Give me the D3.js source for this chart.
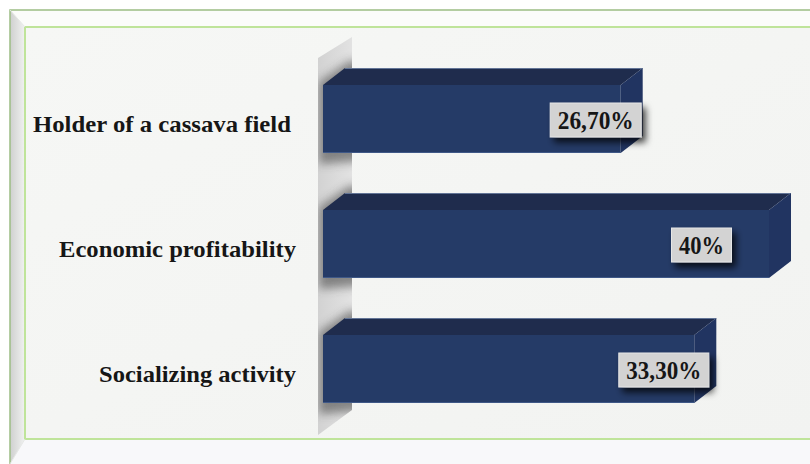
<!DOCTYPE html>
<html>
<head>
<meta charset="utf-8">
<script src="https://cdn.jsdelivr.net/npm/d3@7/dist/d3.min.js"></script>
<style>
  html, body { margin: 0; padding: 0; background: #ffffff; }
  svg { display: block; }
</style>
</head>
<body>
<svg id="chart" width="810" height="464"></svg>
<script>
// Reasons for cassava cultivation (share of respondents)
const categories = ["Holder of a cassava field", "Economic profitability", "Socializing activity"];
const values = [26.7, 40, 33.3];
const valueLabels = ["26,70%", "40%", "33,30%"];

const W = 810, H = 464;
const svg = d3.select("#chart");
const defs = svg.append("defs");

// ---------- frame ----------
const leftBevel = defs.append("linearGradient").attr("id", "leftBevel")
  .attr("x1", 0).attr("x2", 1).attr("y1", 0).attr("y2", 0);
leftBevel.append("stop").attr("offset", 0).attr("stop-color", "#cfd0cf");
leftBevel.append("stop").attr("offset", 1).attr("stop-color", "#f1f2f1");

const plotFill = defs.append("linearGradient").attr("id", "plotFill")
  .attr("x1", 0).attr("x2", 1).attr("y1", 0).attr("y2", 1);
plotFill.append("stop").attr("offset", 0).attr("stop-color", "#f6f7f5");
plotFill.append("stop").attr("offset", 1).attr("stop-color", "#f2f3f1");

const outer = { x0: 10, y0: 10 };
const inner = { x0: 25, y0: 27, y1: 439 };

svg.append("polygon") // top bevel
  .attr("points", [[outer.x0, outer.y0], [W, outer.y0], [W, inner.y0], [inner.x0, inner.y0]].join(" "))
  .attr("fill", "#fbfcfa");
svg.append("polygon") // bottom bevel
  .attr("points", [[inner.x0, inner.y1], [W, inner.y1], [W, H], [outer.x0, H]].join(" "))
  .attr("fill", "#f8f8fa");
svg.append("polygon") // left bevel
  .attr("points", [[outer.x0, outer.y0], [inner.x0, inner.y0], [inner.x0, inner.y1], [outer.x0, H]].join(" "))
  .attr("fill", "url(#leftBevel)");
svg.append("rect") // plot area
  .attr("x", inner.x0).attr("y", inner.y0)
  .attr("width", W - inner.x0).attr("height", inner.y1 - inner.y0)
  .attr("fill", "url(#plotFill)");

// frame lines
svg.append("path").attr("d", `M${W},${outer.y0}H${outer.x0}V${H}`)
  .attr("fill", "none").attr("stroke", "#9cbd84").attr("stroke-width", 1.5);
svg.append("path").attr("d", `M${W},${inner.y0}H${inner.x0}V${inner.y1}H${W}`)
  .attr("fill", "none").attr("stroke", "#bfe49a").attr("stroke-width", 2);
svg.append("path").attr("d", `M${outer.x0},${outer.y0}L${inner.x0},${inner.y0}M${inner.x0},${inner.y1}L${outer.x0},${H}`)
  .attr("fill", "none").attr("stroke", "#e6e8e6").attr("stroke-width", 1);

// ---------- scales ----------
const x = d3.scaleLinear().domain([0, 40]).range([323, 769]);
const y = d3.scaleBand().domain(categories).range([47.5, 440.5])
  .paddingInner(0.456).paddingOuter(0.3);
const bh = y.bandwidth();
const depth = { dx: 22, dy: -17 };

// ---------- side wall ----------
const wallPts = [[318, 58], [352, 37], [352, 410], [318, 435]];
const wallGrad = defs.append("linearGradient").attr("id", "wallGrad")
  .attr("x1", 0).attr("x2", 1).attr("y1", 0).attr("y2", 0);
wallGrad.append("stop").attr("offset", 0).attr("stop-color", "#d2d2d2");
wallGrad.append("stop").attr("offset", 1).attr("stop-color", "#e2e2e2");
svg.append("polygon").attr("points", wallPts.join(" ")).attr("fill", "url(#wallGrad)");
defs.append("clipPath").attr("id", "wallClip")
  .append("polygon").attr("points", wallPts.join(" "));

// shadows cast by the bars onto the wall
const blur = defs.append("filter").attr("id", "soft")
  .attr("x", "-50%").attr("y", "-50%").attr("width", "200%").attr("height", "200%");
blur.append("feGaussianBlur").attr("stdDeviation", 5);
svg.append("g").attr("clip-path", "url(#wallClip)")
  .selectAll("polygon").data(categories).join("polygon")
  .attr("points", c => {
    const x0 = x(0) - 4, y0 = y(c) - 3;
    return [[x0, y0], [x0 + depth.dx + 8, y0 + depth.dy - 4], [x0 + 60, y0 + depth.dy - 4],
            [x0 + 60, y0 + bh + 10], [x0, y0 + bh + 14]].join(" ");
  })
  .attr("fill", "#3a3a3a").attr("opacity", 0.55).attr("filter", "url(#soft)");

// ---------- bars ----------
const bars = svg.append("g").selectAll("g").data(categories).join("g");

bars.append("polygon") // top face
  .attr("points", (c, i) => {
    const x0 = x(0), x1 = x(values[i]), y0 = y(c);
    return [[x0, y0], [x0 + depth.dx, y0 + depth.dy], [x1 + depth.dx, y0 + depth.dy], [x1, y0]].join(" ");
  })
  .attr("fill", "#1f2c4d");
bars.append("line") // highlight on the back edge
  .attr("x1", c => x(0) + depth.dx).attr("y1", c => y(c) + depth.dy + 0.5)
  .attr("x2", (c, i) => x(values[i]) + depth.dx).attr("y2", c => y(c) + depth.dy + 0.5)
  .attr("stroke", "#7f93b6").attr("stroke-width", 1).attr("opacity", 0.7);
bars.append("polygon") // side face
  .attr("points", (c, i) => {
    const x1 = x(values[i]), y0 = y(c);
    return [[x1, y0], [x1 + depth.dx, y0 + depth.dy], [x1 + depth.dx, y0 + bh + depth.dy], [x1, y0 + bh]].join(" ");
  })
  .attr("fill", "#213461");
bars.append("rect") // front face
  .attr("x", x(0)).attr("y", c => y(c))
  .attr("width", (c, i) => x(values[i]) - x(0)).attr("height", bh)
  .attr("fill", "#253b67");
bars.append("line") // lower front edge
  .attr("x1", x(0)).attr("x2", (c, i) => x(values[i]))
  .attr("y1", c => y(c) + bh - 0.5).attr("y2", c => y(c) + bh - 0.5)
  .attr("stroke", "#3f5887").attr("stroke-width", 1);

// ---------- category labels ----------
const labelWidths = [258, 237, 197];
const labelRight = [291, 296, 296];
svg.append("g").selectAll("text").data(categories).join("text")
  .attr("x", (c, i) => labelRight[i]).attr("y", c => y(c) + bh / 2 + 13)
  .attr("text-anchor", "end")
  .attr("font-family", "'Liberation Serif', 'Times New Roman', serif")
  .attr("font-weight", "bold").attr("font-size", 24)
  .attr("fill", "#161616")
  .attr("textLength", (c, i) => labelWidths[i])
  .attr("lengthAdjust", "spacingAndGlyphs")
  .text(c => c);

// ---------- value labels ----------
const shadow = defs.append("filter").attr("id", "boxShadow")
  .attr("x", "-30%").attr("y", "-30%").attr("width", "160%").attr("height", "180%");
shadow.append("feDropShadow").attr("dx", 4).attr("dy", 5).attr("stdDeviation", 3.5)
  .attr("flood-color", "#000000").attr("flood-opacity", 0.75);

const labelOffset = [-25, -67.5, -30.5]; // box centre relative to bar end
const valueWidths = [76, 45, 75];
const vl = svg.append("g").selectAll("g").data(categories).join("g")
  .attr("transform", (c, i) => `translate(${x(values[i]) + labelOffset[i]},${y(c) + bh / 2 + 1})`);
vl.append("rect")
  .attr("x", (c, i) => -(valueWidths[i] + 15) / 2).attr("y", -17)
  .attr("width", (c, i) => valueWidths[i] + 15).attr("height", 34)
  .attr("fill", "#d3d3d3").attr("stroke", "#e6e6e6").attr("stroke-width", 1)
  .attr("filter", "url(#boxShadow)");
vl.append("text")
  .attr("text-anchor", "middle").attr("y", 8.5)
  .attr("font-family", "'Liberation Serif', 'Times New Roman', serif")
  .attr("font-weight", "bold").attr("font-size", 25)
  .attr("fill", "#161616")
  .attr("textLength", (c, i) => valueWidths[i])
  .attr("lengthAdjust", "spacingAndGlyphs")
  .text((c, i) => valueLabels[i]);
</script>
</body>
</html>
